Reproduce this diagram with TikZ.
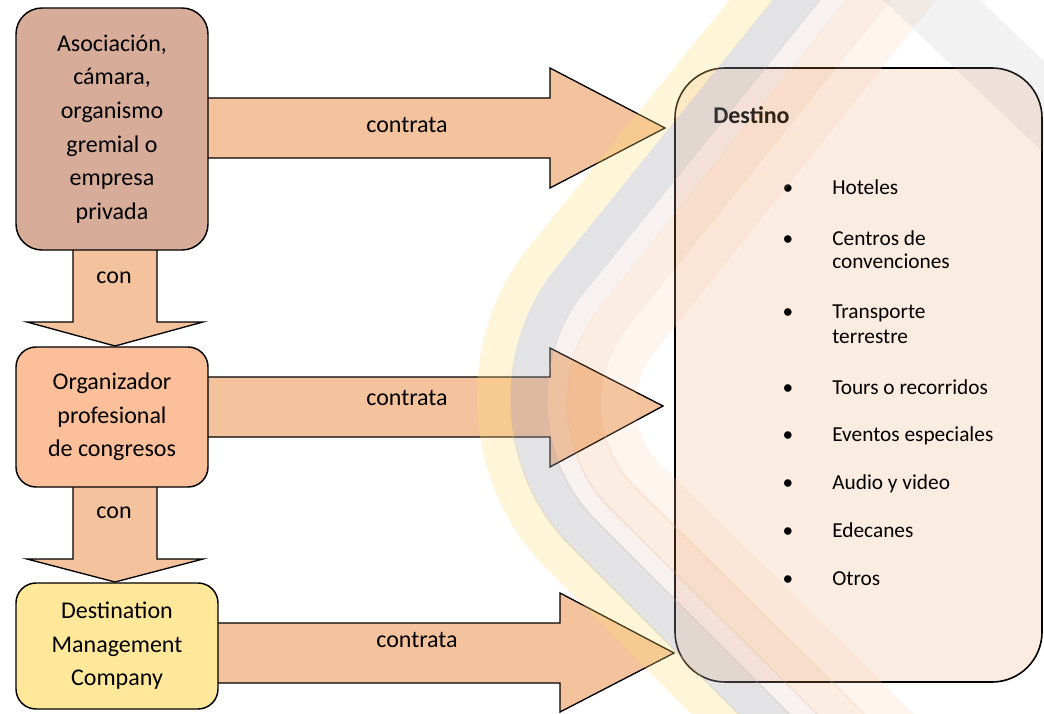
\documentclass[tikz,border=0pt]{standalone}
\usepackage{fontspec}
\setmainfont{Carlito}
\usetikzlibrary{calc}
\definecolor{cboxa}{RGB}{215,172,152}
\definecolor{cboxb}{RGB}{251,191,154}
\definecolor{cboxc}{RGB}{255,232,153}
\definecolor{carrow}{RGB}{244,195,157}
\definecolor{wmyellow}{RGB}{255,222,120}
\definecolor{wmgrey}{RGB}{165,165,170}
\definecolor{wmpink}{RGB}{215,185,180}
\definecolor{wmorange}{RGB}{238,165,110}
\definecolor{wmlight}{RGB}{248,205,170}
\pgfdeclarelayer{bg}
\pgfdeclarelayer{wm}
\pgfsetlayers{bg,main,wm}
\begin{document}
\begin{tikzpicture}[x=0.75pt,y=-0.75pt,
  box/.style={draw=black, line width=1.1pt, align=center, inner sep=0pt,
    font=\fontsize{18}{25.2}\selectfont},
  blockarrow/.style={draw=black, line width=1pt, fill=carrow, line join=miter},
  lbl/.style={font=\fontsize{18}{22}\selectfont, inner sep=0pt},
  itemtext/.style={font=\fontsize{16}{19}\selectfont, anchor=base west, inner sep=0pt},
  bul/.style={font=\fontsize{16}{19}\selectfont, anchor=base, inner sep=0pt},
  band/.style={line cap=butt, line join=round}
]
\useasboundingbox (0,0) rectangle (1044,713);

% boxes
\node[box, fill=cboxa, minimum width=144pt, minimum height=181.5pt, rounded corners=19.5pt] (b1) at (112,129)
  {Asociación,\\cámara,\\organismo\\gremial o\\empresa\\privada};
\node[box, fill=cboxb, minimum width=144pt, minimum height=105pt, rounded corners=15pt] (b2) at (112,417)
  {Organizador\\profesional\\de congresos};
\node[box, fill=cboxc, minimum width=151.5pt, minimum height=94.5pt, rounded corners=15pt] (b3) at (117,646)
  {Destination\\Management\\Company};
\node[draw=black, line width=1.2pt, rounded corners=37.5pt, fill=carrow, fill opacity=0.3,
  minimum width=275.25pt, minimum height=460.5pt, inner sep=0pt] (dest) at (858.5,375) {};

% block arrows (behind the boxes)
\begin{pgfonlayer}{bg}
\fill[white] (0,0) rectangle (1044,713);
\draw[blockarrow] (b1.east) ++(-5,-31) -- (550,98) -- (550,68) -- (665,128) -- (550,188) -- (550,158) -- (203,158) -- cycle;
\draw[blockarrow] (b2.east) ++(-5,-40) -- (550,377) -- (550,348) -- (663,406) -- (550,467) -- (550,437) -- (203,437) -- cycle;
\draw[blockarrow] (b3.east) ++(-5,-23) -- (560,623) -- (560,593) -- (674,653) -- (560,712) -- (560,683) -- (213,683) -- cycle;
\draw[blockarrow] (b1.south) ++(-39,-5) -- (73,322) -- (27,322) -- (115,346) -- (203,322) -- (157,322) -- (157,245) -- cycle;
\draw[blockarrow] (b2.south) ++(-39,-5) -- (73,559) -- (27,559) -- (115,582) -- (203,559) -- (157,559) -- (157,482) -- cycle;
\end{pgfonlayer}

% labels
\node[lbl] (l1) at (407,125) {contrata};
\node[lbl] (l2) at (407,398) {contrata};
\node[lbl] (l3) at (417,640) {contrata};
\node[lbl] (c1) at (114,278) {con};
\node[lbl] (c2) at (114,513) {con};

% destination content
\node[font=\bfseries\fontsize{18}{20}\selectfont, anchor=base west, inner sep=0pt] (dt) at (713,123) {Destino};
\node[bul] (p1) at (788,194.5) {•};
\node[itemtext] (i1) at (832,194.5) {Hoteles};
\node[bul] (p2) at (788,245.5) {•};
\node[itemtext] (i2a) at (832,245.5) {Centros de};
\node[itemtext] (i2b) at (832,268.5) {convenciones};
\node[bul] (p3) at (788,318) {•};
\node[itemtext] (i3a) at (832,318) {Transporte};
\node[itemtext] (i3b) at (832,343) {terrestre};
\node[bul] (p4) at (788,394) {•};
\node[itemtext] (i4) at (832,394) {Tours o recorridos};
\node[bul] (p5) at (788,441) {•};
\node[itemtext] (i5) at (832,441) {Eventos especiales};
\node[bul] (p6) at (788,489) {•};
\node[itemtext] (i6) at (832,489) {Audio y video};
\node[bul] (p7) at (788,537.5) {•};
\node[itemtext] (i7) at (832,537.5) {Edecanes};
\node[bul] (p8) at (788,585.5) {•};
\node[itemtext] (i8) at (832,585.5) {Otros};

% watermark
\begin{pgfonlayer}{wm}
\draw[band, wmyellow, opacity=0.28, line width=25.5pt, rounded corners=150pt] (800,-60) -- (416,413) -- (781,780);
\draw[band, wmgrey, opacity=0.3, line width=28pt, rounded corners=127pt] (845,-60) -- (463,413) -- (830,780);
\draw[band, wmpink, opacity=0.2, line width=16pt, rounded corners=108pt] (881,-60) -- (501,413) -- (869.5,780);
\draw[band, wmorange, opacity=0.2, line width=26pt, rounded corners=90pt] (916.5,-60) -- (537,413) -- (907.5,780);
\draw[band, wmlight, opacity=0.2, line width=27pt, rounded corners=67pt] (961,-60) -- (583,413) -- (955.5,780);
\draw[band, wmgrey, opacity=0.14, line width=50pt] (900,-30) -- (1110,170);
\end{pgfonlayer}
\end{tikzpicture}
\end{document}
